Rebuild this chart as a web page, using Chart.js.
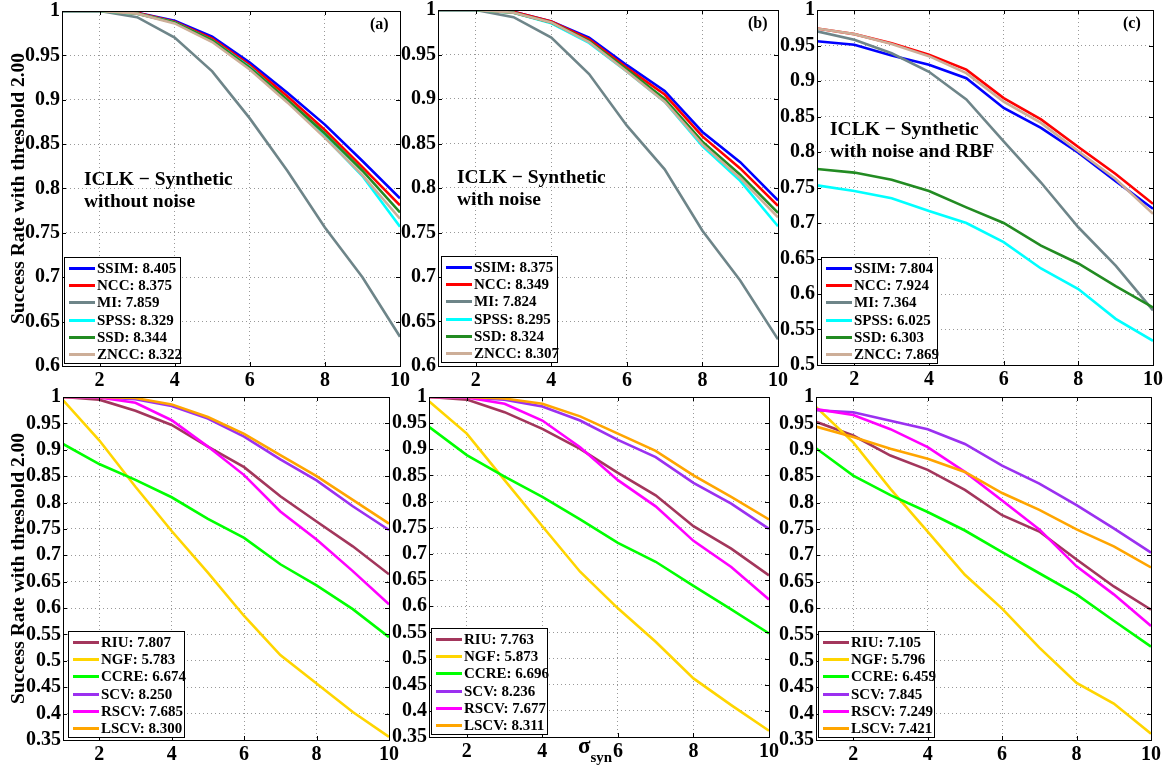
<!DOCTYPE html>
<html>
<head>
<meta charset="utf-8">
<script src="https://cdn.jsdelivr.net/npm/chart.js@4.4.1/dist/chart.umd.min.js"></script>
<style>
    body { margin: 0; background: #fff; }
    #page { position: relative; width: 1173px; height: 773px; overflow: hidden; font-family: 'Liberation Serif', 'Times New Roman', serif; }
    .panel { position: absolute; }
    .legend { position: absolute; box-sizing: border-box; width: 117px; background: #fff; border: 1.5px solid #000; padding: 2px 3px 0 4px; font-weight: bold; font-size: 15px; }
    .legend__row { display: flex; align-items: center; height: 17.2px; white-space: nowrap; }
    .legend__line { width: 26px; height: 3px; margin-right: 2px; flex: none; }
    .note { position: absolute; font-weight: bold; font-size: 19.5px; line-height: 22px; white-space: nowrap; }
    .tag { position: absolute; font-weight: bold; font-size: 16px; }
    .xlabel { position: absolute; font-weight: bold; font-size: 23px; }
    .xlabel sub { font-size: 15px; vertical-align: -9px; }
</style>
</head>
<body>
<div id="page"></div>
<script>
// x axis: sigma_syn 1..10
const xValues = [1, 2, 3, 4, 5, 6, 7, 8, 9, 10];
const xTicks = [2, 4, 6, 8, 10];

const yTicksTop = [0.6, 0.65, 0.7, 0.75, 0.8, 0.85, 0.9, 0.95, 1];
const yTicksRBF = [0.5, 0.55, 0.6, 0.65, 0.7, 0.75, 0.8, 0.85, 0.9, 0.95, 1];
const yTicksBottom = [0.35, 0.4, 0.45, 0.5, 0.55, 0.6, 0.65, 0.7, 0.75, 0.8, 0.85, 0.9, 0.95, 1];

const methodsTop = ['SSIM', 'NCC', 'MI', 'SPSS', 'SSD', 'ZNCC'];
const methodsBottom = ['RIU', 'NGF', 'CCRE', 'SCV', 'RSCV', 'LSCV'];
const colorsTop = ['#0000ff', '#ff0000', '#6e8589', '#00ffff', '#228b22', '#cdae98'];
const colorsBottom = ['#a3365c', '#ffd500', '#00ff00', '#9b30f0', '#ff00ff', '#ffa500'];

// (a) without noise
const scoresA = [8.405, 8.375, 7.859, 8.329, 8.344, 8.322];
const aSSIM = [1, 1, 0.998, 0.989, 0.971, 0.942, 0.908, 0.872, 0.831, 0.789];
const aNCC  = [1, 1, 0.998, 0.988, 0.969, 0.939, 0.904, 0.866, 0.824, 0.781];
const aMI   = [1, 1, 0.993, 0.970, 0.932, 0.879, 0.820, 0.756, 0.700, 0.633];
const aSPSS = [1, 1, 0.997, 0.987, 0.967, 0.937, 0.899, 0.858, 0.814, 0.757];
const aSSD  = [1, 1, 0.997, 0.987, 0.967, 0.936, 0.900, 0.862, 0.820, 0.773];
const aZNCC = [1, 1, 0.997, 0.986, 0.965, 0.934, 0.897, 0.857, 0.815, 0.766];

// (b) with noise
const scoresB = [8.375, 8.349, 7.824, 8.295, 8.324, 8.307];
const bSSIM = [1, 1, 0.998, 0.987, 0.969, 0.938, 0.909, 0.863, 0.829, 0.786];
const bNCC  = [1, 1, 0.998, 0.987, 0.967, 0.935, 0.905, 0.858, 0.822, 0.780];
const bMI   = [1, 1, 0.992, 0.969, 0.928, 0.870, 0.821, 0.752, 0.696, 0.630];
const bSPSS = [1, 1, 0.997, 0.985, 0.963, 0.931, 0.897, 0.847, 0.808, 0.757];
const bSSD  = [1, 1, 0.997, 0.986, 0.965, 0.933, 0.900, 0.852, 0.815, 0.772];
const bZNCC = [1, 1, 0.997, 0.986, 0.964, 0.931, 0.897, 0.849, 0.811, 0.767];

// (c) with noise and RBF
const scoresC = [7.804, 7.924, 7.364, 6.025, 6.303, 7.869];
const cSSIM = [0.956, 0.951, 0.936, 0.923, 0.904, 0.862, 0.834, 0.799, 0.759, 0.720];
const cNCC  = [0.974, 0.966, 0.953, 0.937, 0.916, 0.876, 0.846, 0.807, 0.769, 0.727];
const cMI   = [0.970, 0.958, 0.939, 0.913, 0.874, 0.815, 0.757, 0.694, 0.640, 0.577];
const cSPSS = [0.753, 0.745, 0.735, 0.717, 0.700, 0.673, 0.636, 0.607, 0.565, 0.534];
const cSSD  = [0.776, 0.771, 0.761, 0.745, 0.722, 0.700, 0.668, 0.643, 0.611, 0.581];
const cZNCC = [0.974, 0.966, 0.952, 0.935, 0.911, 0.871, 0.841, 0.801, 0.762, 0.713];

// (d) without noise, second group
const scoresD = [7.807, 5.783, 6.674, 8.250, 7.685, 8.300];
const dRIU  = [1, 0.995, 0.974, 0.947, 0.906, 0.867, 0.812, 0.764, 0.717, 0.664];
const dNGF  = [0.994, 0.918, 0.830, 0.746, 0.667, 0.585, 0.511, 0.457, 0.403, 0.356];
const dCCRE = [0.911, 0.873, 0.843, 0.810, 0.769, 0.733, 0.683, 0.643, 0.598, 0.545];
const dSCV  = [1, 0.999, 0.996, 0.983, 0.959, 0.925, 0.882, 0.842, 0.793, 0.748];
const dRSCV = [1, 0.999, 0.989, 0.956, 0.906, 0.852, 0.783, 0.730, 0.670, 0.607];
const dLSCV = [1, 1, 0.998, 0.986, 0.962, 0.930, 0.890, 0.850, 0.805, 0.760];

// (e) with noise, second group
const scoresE = [7.763, 5.873, 6.696, 8.236, 7.677, 8.311];
const eRIU  = [1, 0.995, 0.971, 0.939, 0.901, 0.855, 0.812, 0.753, 0.710, 0.659];
const eNGF  = [0.992, 0.930, 0.841, 0.753, 0.666, 0.596, 0.532, 0.462, 0.411, 0.362];
const eCCRE = [0.943, 0.889, 0.848, 0.809, 0.766, 0.721, 0.685, 0.639, 0.594, 0.548];
const eSCV  = [1, 0.999, 0.995, 0.982, 0.955, 0.918, 0.885, 0.836, 0.796, 0.748];
const eRSCV = [1, 0.999, 0.987, 0.955, 0.904, 0.841, 0.791, 0.725, 0.675, 0.613];
const eLSCV = [1, 1, 0.997, 0.987, 0.963, 0.930, 0.897, 0.850, 0.809, 0.766];

// (f) with noise and RBF, second group
const scoresF = [7.105, 5.796, 6.459, 7.845, 7.249, 7.421];
const fRIU  = [0.953, 0.927, 0.889, 0.862, 0.824, 0.776, 0.745, 0.692, 0.641, 0.597];
const fNGF  = [0.981, 0.914, 0.826, 0.745, 0.663, 0.599, 0.525, 0.458, 0.419, 0.362];
const fCCRE = [0.903, 0.851, 0.814, 0.782, 0.747, 0.706, 0.666, 0.626, 0.576, 0.527];
const fSCV  = [0.975, 0.971, 0.955, 0.939, 0.911, 0.870, 0.836, 0.795, 0.751, 0.705];
const fRSCV = [0.977, 0.966, 0.939, 0.905, 0.858, 0.804, 0.749, 0.679, 0.626, 0.566];
const fLSCV = [0.944, 0.924, 0.902, 0.883, 0.858, 0.818, 0.786, 0.749, 0.717, 0.677];

const FONT = "'Liberation Serif', 'Times New Roman', serif";
const Y_TITLE = 'Success Rate with threshold 2.00';
const PAD_TOP = 12, PAD_RIGHT = 14, X_AXIS_H = 32;

const panels = [
    { tag: '(a)', box: { l: 62, t: 9, r: 400, b: 366 }, yW: 62, yTicks: yTicksTop, names: methodsTop, colors: colorsTop,
      scores: scoresA, series: [aSSIM, aNCC, aMI, aSPSS, aSSD, aZNCC],
      note: ['ICLK \u2212 Synthetic', 'without noise'], noteAt: [84, 168], legendAt: [64, 257] },
    { tag: '(b)', box: { l: 438, t: 8, r: 778, b: 366 }, yW: 40, yTicks: yTicksTop, names: methodsTop, colors: colorsTop,
      scores: scoresB, series: [bSSIM, bNCC, bMI, bSPSS, bSSD, bZNCC],
      note: ['ICLK \u2212 Synthetic', 'with noise'], noteAt: [457, 166], legendAt: [441, 256] },
    { tag: '(c)', box: { l: 817, t: 8, r: 1153, b: 365 }, yW: 40, yTicks: yTicksRBF, names: methodsTop, colors: colorsTop,
      scores: scoresC, series: [cSSIM, cNCC, cMI, cSPSS, cSSD, cZNCC],
      note: ['ICLK \u2212 Synthetic', 'with noise and RBF'], noteAt: [830, 118], legendAt: [821, 257] },
    { tag: '', box: { l: 63, t: 395, r: 389, b: 740 }, yW: 63, yTicks: yTicksBottom, names: methodsBottom, colors: colorsBottom,
      scores: scoresD, series: [dRIU, dNGF, dCCRE, dSCV, dRSCV, dLSCV], legendAt: [68, 631] },
    { tag: '', box: { l: 429, t: 395, r: 769, b: 737 }, yW: 40, yTicks: yTicksBottom, names: methodsBottom, colors: colorsBottom,
      scores: scoresE, series: [eRIU, eNGF, eCCRE, eSCV, eRSCV, eLSCV], legendAt: [431, 628] },
    { tag: '', box: { l: 816, t: 395, r: 1151, b: 740 }, yW: 40, yTicks: yTicksBottom, names: methodsBottom, colors: colorsBottom,
      scores: scoresF, series: [fRIU, fNGF, fCCRE, fSCV, fRSCV, fLSCV], legendAt: [818, 631] }
];

// black box round the plot plus short inward ticks, like the MATLAB axes
const axesBox = {
    id: 'axesBox',
    afterDatasetsDraw(chart) {
        const { ctx, chartArea: a, scales } = chart;
        ctx.save();
        ctx.strokeStyle = '#000';
        ctx.lineWidth = 1;
        ctx.beginPath();
        scales.x.ticks.forEach(t => {
            const px = Math.round(scales.x.getPixelForValue(t.value)) + 0.5;
            ctx.moveTo(px, a.bottom); ctx.lineTo(px, a.bottom - 4);
            ctx.moveTo(px, a.top); ctx.lineTo(px, a.top + 4);
        });
        scales.y.ticks.forEach(t => {
            const py = Math.round(scales.y.getPixelForValue(t.value)) + 0.5;
            ctx.moveTo(a.left, py); ctx.lineTo(a.left + 4, py);
            ctx.moveTo(a.right, py); ctx.lineTo(a.right - 4, py);
        });
        ctx.stroke();
        ctx.strokeRect(Math.round(a.left) + 0.5, Math.round(a.top) + 0.5,
            Math.round(a.right - a.left), Math.round(a.bottom - a.top));
        ctx.restore();
    }
};

const fmt = v => String(parseFloat(Number(v).toFixed(2)));

function renderPanel(p, idx) {
    const page = document.getElementById('page');
    const w = p.box.r - p.box.l + p.yW + PAD_RIGHT;
    const h = p.box.b - p.box.t + PAD_TOP + X_AXIS_H;

    const holder = document.createElement('div');
    holder.className = 'panel';
    holder.style.left = (p.box.l - p.yW) + 'px';
    holder.style.top = (p.box.t - PAD_TOP) + 'px';
    const canvas = document.createElement('canvas');
    canvas.width = w;
    canvas.height = h;
    holder.appendChild(canvas);
    page.appendChild(holder);

    const leftCol = idx % 3 === 0;
    const n = p.series.length;

    new Chart(canvas, {
        type: 'line',
        data: {
            datasets: p.series.map((s, i) => ({
                label: `${p.names[i]}: ${p.scores[i].toFixed(3)}`,
                data: s.map((v, k) => ({ x: xValues[k], y: v })),
                borderColor: p.colors[i],
                borderWidth: 2.6,
                pointRadius: 0,
                tension: 0,
                order: n - i
            }))
        },
        options: {
            responsive: false,
            animation: false,
            events: [],
            layout: { padding: { top: PAD_TOP, right: PAD_RIGHT, left: 0, bottom: 0 } },
            plugins: { legend: { display: false }, tooltip: { enabled: false } },
            scales: {
                x: {
                    type: 'linear',
                    min: 1,
                    max: 10,
                    afterBuildTicks: s => { s.ticks = xTicks.map(v => ({ value: v })); },
                    afterFit: s => { s.height = X_AXIS_H; },
                    ticks: { color: '#000', padding: 3, maxRotation: 0, autoSkip: false, font: { family: FONT, size: 20, weight: 'bold' } },
                    grid: { color: 'rgba(0,0,0,0.4)', lineWidth: 1, drawTicks: false },
                    border: { display: false, dash: [1, 3] }
                },
                y: {
                    type: 'linear',
                    min: p.yTicks[0],
                    max: p.yTicks[p.yTicks.length - 1],
                    afterBuildTicks: s => { s.ticks = p.yTicks.map(v => ({ value: v })); },
                    afterFit: s => { s.width = p.yW; },
                    ticks: { color: '#000', padding: 2, autoSkip: false, callback: fmt, font: { family: FONT, size: 20, weight: 'bold' } },
                    grid: { color: 'rgba(0,0,0,0.4)', lineWidth: 1, drawTicks: false },
                    border: { display: false, dash: [1, 3] },
                    title: {
                        display: leftCol,
                        text: Y_TITLE,
                        color: '#000',
                        padding: { top: 7, bottom: 0 },
                        font: { family: FONT, size: 19.5, weight: 'bold' }
                    }
                }
            }
        },
        plugins: [axesBox]
    });

    // legend box inside the axes, lower left
    const lg = document.createElement('div');
    lg.className = 'legend';
    lg.style.left = p.legendAt[0] + 'px';
    lg.style.top = p.legendAt[1] + 'px';
    lg.innerHTML = p.names.map((name, i) => `
        <div class="legend__row">
            <span class="legend__line" style="background:${p.colors[i]}"></span>
            <span>${name}: ${p.scores[i].toFixed(3)}</span>
        </div>`).join('');
    page.appendChild(lg);

    if (p.note) {
        const note = document.createElement('div');
        note.className = 'note';
        note.style.left = p.noteAt[0] + 'px';
        note.style.top = p.noteAt[1] + 'px';
        note.innerHTML = p.note.join('<br>');
        page.appendChild(note);
    }
    if (p.tag) {
        const tag = document.createElement('div');
        tag.className = 'tag';
        tag.textContent = p.tag;
        tag.style.left = (p.box.r - 30) + 'px';
        tag.style.top = (p.box.t + 6) + 'px';
        page.appendChild(tag);
    }
}

panels.forEach(renderPanel);

// shared x label under the middle bottom panel
const xl = document.createElement('div');
xl.className = 'xlabel';
xl.innerHTML = '\u03c3<sub>syn</sub>';
xl.style.left = '578px';
xl.style.top = '733px';
document.getElementById('page').appendChild(xl);
</script>
</body>
</html>
